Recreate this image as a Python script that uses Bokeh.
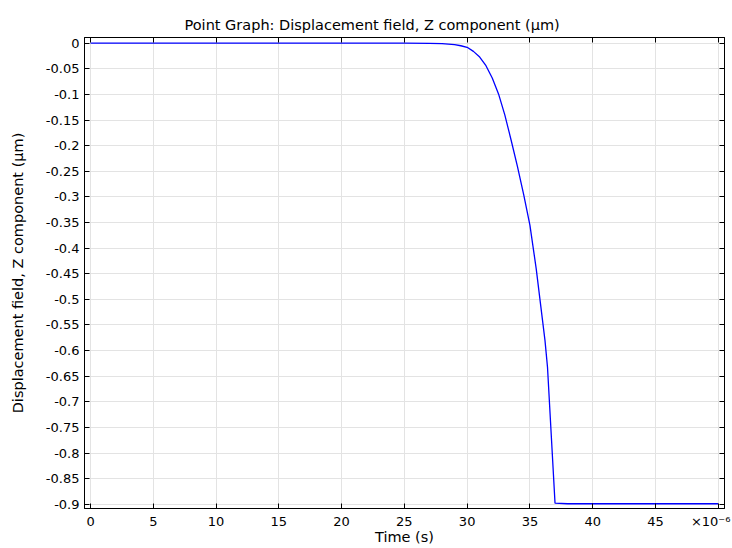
from bokeh.plotting import figure
from bokeh.models import Range1d, LinearAxis, FixedTicker
from bokeh.embed import file_html
from bokeh.resources import INLINE

# Time in units of 1e-6 s, displacement in µm
time_us = [0, 5, 10, 15, 20, 25, 27, 28, 28.5, 29, 29.5, 30, 30.5, 31, 31.5, 32,
           32.5, 33, 33.5, 34, 34.5, 35, 35.5, 36, 36.2, 36.4, 37, 38, 40, 45, 50]
disp_um = [0, 0, 0, 0, 0, 0, -0.0002, -0.0008, -0.0018, -0.003, -0.005, -0.008,
           -0.016, -0.027, -0.044, -0.068, -0.099, -0.140, -0.189, -0.240, -0.295,
           -0.355, -0.44, -0.54, -0.58, -0.632, -0.898, -0.899, -0.899, -0.899, -0.899]

x_ticks = [0, 5, 10, 15, 20, 25, 30, 35, 40, 45, 50]
x_label_pos = [0, 5, 10, 15, 20, 25, 30, 35, 40, 45, 49.4]
x_tick_labels = ["0", "5", "10", "15", "20", "25", "30", "35", "40", "45", "×10⁻⁶"]
y_ticks = [0, -0.05, -0.1, -0.15, -0.2, -0.25, -0.3, -0.35, -0.4, -0.45, -0.5,
           -0.55, -0.6, -0.65, -0.7, -0.75, -0.8, -0.85, -0.9]
y_tick_labels = ["0", "-0.05", "-0.1", "-0.15", "-0.2", "-0.25", "-0.3", "-0.35",
                 "-0.4", "-0.45", "-0.5", "-0.55", "-0.6", "-0.65", "-0.7", "-0.75",
                 "-0.8", "-0.85", "-0.9"]

FONT = "DejaVu Sans"
FS = "13px"
FS_LABEL = "14.5px"

p = figure(width=732, height=548, output_backend="svg", toolbar_location=None,
           x_range=Range1d(-0.48, 50.5), y_range=Range1d(-0.9083, 0.0111),
           min_border_left=84, min_border_right=8, min_border_top=37, min_border_bottom=40)

p.title.text = "Point Graph: Displacement field, Z component (µm)"
p.title.text_font = FONT
p.title.text_font_size = FS_LABEL
p.title.text_font_style = "normal"
p.title.align = "left"
p.title.offset = 100
p.title.text_color = "black"

p.line(time_us, disp_um, line_color="#0000ff", line_width=1.3)

p.outline_line_color = "black"
p.outline_line_width = 1
p.background_fill_color = "white"
p.border_fill_color = "white"

def tick_only(ax, ticks):
    ax.ticker = FixedTicker(ticks=ticks)
    ax.major_label_overrides = {t: "" for t in ticks}
    ax.major_label_standoff = 0
    ax.major_tick_in = 5
    ax.major_tick_out = 0
    ax.minor_tick_in = 0
    ax.minor_tick_out = 0
    ax.axis_line_color = "black"
    ax.major_tick_line_color = "black"

# bottom axis: ticks only (labels on a second axis just below)
xa = p.xaxis[0]
tick_only(xa, x_ticks)

xl = LinearAxis(ticker=FixedTicker(ticks=x_label_pos))
xl.major_label_overrides = {t: l for t, l in zip(x_label_pos, x_tick_labels)}
xl.axis_label = "Time (s)"
xl.axis_line_color = None
xl.major_tick_line_color = None
xl.minor_tick_line_color = None
xl.major_tick_in = 0
xl.major_tick_out = 0
xl.minor_tick_in = 0
xl.minor_tick_out = 0
xl.major_label_standoff = 5
xl.axis_label_standoff = -3
p.add_layout(xl, "below")

ya = p.yaxis[0]
ya.ticker = FixedTicker(ticks=y_ticks)
ya.major_label_overrides = {t: l for t, l in zip(y_ticks, y_tick_labels)}
ya.axis_label = "Displacement field, Z component (µm)"
ya.major_tick_in = 5
ya.major_tick_out = 0
ya.minor_tick_in = 0
ya.minor_tick_out = 0
ya.axis_line_color = "black"
ya.major_tick_line_color = "black"
ya.major_label_standoff = 5
ya.axis_label_standoff = 17

for ax in (xl, ya):
    ax.major_label_text_font = FONT
    ax.major_label_text_font_size = FS
    ax.major_label_text_color = "black"
    ax.axis_label_text_font = FONT
    ax.axis_label_text_font_size = FS_LABEL
    ax.axis_label_text_font_style = "normal"
    ax.axis_label_text_color = "black"

# mirror ticks on top and right (no labels)
top = LinearAxis()
right = LinearAxis()
tick_only(top, x_ticks)
tick_only(right, y_ticks)
p.add_layout(top, "above")
p.add_layout(right, "right")

p.xgrid.ticker = FixedTicker(ticks=x_ticks)
p.ygrid.ticker = FixedTicker(ticks=y_ticks)
p.grid.grid_line_color = "#e3e3e3"
p.grid.grid_line_width = 1

open("out.html", "w").write(file_html(p, INLINE))
